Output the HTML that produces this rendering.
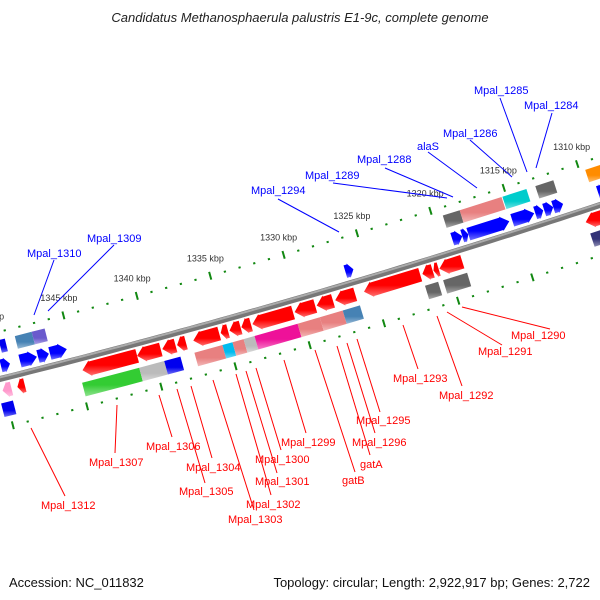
<!DOCTYPE html>
<html><head><meta charset="utf-8">
<style>
html,body{margin:0;padding:0;background:#fff;}
svg{display:block;font-family:"Liberation Sans","DejaVu Sans",sans-serif;}
.bl{fill:#0000ff;font-size:11px;}
.rl{fill:#ff0000;font-size:11px;}
.tk{fill:#333;font-size:9px;}
</style></head>
<body>
<svg id="chart" width="600" height="600" viewBox="0 0 600 600" xmlns="http://www.w3.org/2000/svg">
<defs id="defs"></defs>
<text x="300" y="22" text-anchor="middle" font-size="13" font-style="italic" fill="#222">Candidatus Methanosphaerula palustris E1-9c, complete genome</text>
<g id="ticks"></g>
<g id="backbone"></g>
<g id="genes"></g>
<g id="labels" stroke-width="1">
 <g stroke="#0000ff">
  <line x1="54" y1="260" x2="34" y2="315"/><line x1="114" y1="245" x2="48" y2="311"/>
  <line x1="278" y1="199" x2="339" y2="232"/><line x1="333" y1="183" x2="447" y2="198"/>
  <line x1="385" y1="168" x2="453" y2="197"/><line x1="428" y1="152" x2="477" y2="188"/>
  <line x1="470" y1="140" x2="512" y2="177"/><line x1="500" y1="98" x2="527" y2="172"/>
  <line x1="552" y1="113" x2="536" y2="168"/>
 </g>
 <g stroke="#ff0000">
  <line x1="462" y1="307" x2="550" y2="329"/><line x1="447" y1="312" x2="502" y2="345"/>
  <line x1="437" y1="316" x2="462" y2="386"/><line x1="403" y1="325" x2="418" y2="369"/>
  <line x1="357" y1="339" x2="380" y2="412"/><line x1="347" y1="343" x2="375" y2="433"/>
  <line x1="337" y1="346" x2="370" y2="455"/><line x1="315" y1="350" x2="355" y2="472"/>
  <line x1="284" y1="360" x2="306" y2="433"/><line x1="256" y1="368" x2="281" y2="450"/>
  <line x1="246" y1="371" x2="277" y2="473"/><line x1="236" y1="374" x2="271" y2="495"/>
  <line x1="213" y1="380" x2="254" y2="510"/><line x1="191" y1="386" x2="212" y2="458"/>
  <line x1="177" y1="389" x2="205" y2="483"/><line x1="159" y1="395" x2="172" y2="437"/>
  <line x1="117" y1="405" x2="115" y2="453"/><line x1="31" y1="428" x2="65" y2="496"/>
 </g>
 <g stroke="none">
  <text class="bl" x="27" y="257">Mpal_1310</text>
  <text class="bl" x="87" y="242">Mpal_1309</text>
  <text class="bl" x="251" y="194">Mpal_1294</text>
  <text class="bl" x="305" y="179">Mpal_1289</text>
  <text class="bl" x="357" y="163">Mpal_1288</text>
  <text class="bl" x="417" y="150">alaS</text>
  <text class="bl" x="443" y="137">Mpal_1286</text>
  <text class="bl" x="474" y="94">Mpal_1285</text>
  <text class="bl" x="524" y="109">Mpal_1284</text>
  <text class="rl" x="511" y="339">Mpal_1290</text>
  <text class="rl" x="478" y="355">Mpal_1291</text>
  <text class="rl" x="439" y="399">Mpal_1292</text>
  <text class="rl" x="393" y="382">Mpal_1293</text>
  <text class="rl" x="356" y="424">Mpal_1295</text>
  <text class="rl" x="352" y="446">Mpal_1296</text>
  <text class="rl" x="360" y="468">gatA</text>
  <text class="rl" x="342" y="484">gatB</text>
  <text class="rl" x="281" y="446">Mpal_1299</text>
  <text class="rl" x="255" y="463">Mpal_1300</text>
  <text class="rl" x="255" y="485">Mpal_1301</text>
  <text class="rl" x="246" y="508">Mpal_1302</text>
  <text class="rl" x="228" y="523">Mpal_1303</text>
  <text class="rl" x="186" y="471">Mpal_1304</text>
  <text class="rl" x="179" y="495">Mpal_1305</text>
  <text class="rl" x="146" y="450">Mpal_1306</text>
  <text class="rl" x="89" y="466">Mpal_1307</text>
  <text class="rl" x="41" y="509">Mpal_1312</text>
 </g>
</g>
<text x="9" y="587" font-size="13" fill="#111">Accession: NC_011832</text>
<text x="590" y="587" font-size="13" fill="#111" text-anchor="end">Topology: circular; Length: 2,922,917 bp; Genes: 2,722</text>
</svg>
<script>
// ---- data (positions in kbp) ----
const tickStart = 1305;
const tickEnd = 1351;
const majorEvery = 5;
// reverse strand gene arrows [startKbp, endKbp]
const revGeneStart = [1341.0,1339.4,1338.4,1337.7,1335.45,1334.85,1334.0,1333.3,1330.45,1328.95,1327.75,1326.25,1321.85,1321.0,1320.6,1319.0,1309.4,1348.6,1349.5];
const revGeneEnd   = [1344.7,1341.0,1339.3,1338.3,1337.2,1335.35,1334.75,1333.95,1333.2,1330.35,1328.85,1327.6,1325.65,1321.7,1320.95,1320.55,1310.65,1349.1,1350.1];
const revGeneColor = ['#ff0000','#ff0000','#ff0000','#ff0000','#ff0000','#ff0000','#ff0000','#ff0000','#ff0000','#ff0000','#ff0000','#ff0000','#ff0000','#ff0000','#ff0000','#ff0000','#ff0000','#ff0000','#ff99cc'];
// reverse strand COG boxes
const revBoxStart = [1341.07,1339.38,1338.29,1335.45,1334.77,1334.02,1333.28,1330.37,1328.87,1327.32,1326.16,1320.88,1318.92,1309.4,1349.6];
const revBoxEnd   = [1344.93,1341.07,1339.38,1337.34,1335.45,1334.77,1334.02,1333.28,1330.37,1328.87,1327.32,1321.76,1320.54,1310.6,1350.4];
const revBoxColor = ['#33cc33','#bbbbbb','#0000ee','#e88080','#00bbee','#e88080','#bbbbbb','#ee1199','#e88080','#e88080','#4682b4','#666666','#666666','#333377','#0000ee'];
// forward strand gene arrows
const fwdGeneStart = [1349.2,1347.37,1346.56,1345.34,1325.9,1318.51,1318.1,1315.32,1313.63,1313.02,1312.34,1311.67,1308.8];
const fwdGeneEnd   = [1349.81,1348.52,1347.3,1346.49,1326.44,1319.19,1318.51,1318.1,1315.12,1313.56,1312.95,1312.34,1309.3];
// forward strand COG boxes
const fwdBoxStart = [1349.13,1347.3,1346.42,1318.17,1315.32,1313.63,1311.8,1308.6];
const fwdBoxEnd   = [1349.54,1348.45,1347.3,1319.32,1318.17,1315.26,1313.02,1309.63];
const fwdBoxColor = ['#0000ee','#4682b4','#6a5acd','#666666','#e88080','#00cccc','#666666','#ff8c00'];

// ---- axis functions ----
const NS='http://www.w3.org/2000/svg';
function sOf(k){return 75 + (1345 - k) * 14.76;}
function B(s){return 379 - 0.25*s - 6.67e-5*s*s;}
function pt(s,d){const m=-0.25-1.334e-4*s;const n=Math.sqrt(1+m*m);return [s + d*(-m/n), B(s) + d*(1/n)];}
function P(a){return a.map(p=>p[0].toFixed(1)+','+p[1].toFixed(1)).join(' ');}
function mk(tag,attrs,parent){const e=document.createElementNS(NS,tag);for(const k in attrs)e.setAttribute(k,attrs[k]);parent.appendChild(e);return e;}
function lighten(c){const r=parseInt(c.substr(1,2),16),g=parseInt(c.substr(3,2),16),b=parseInt(c.substr(5,2),16);const f=x=>Math.round(x+(255-x)*0.45).toString(16).padStart(2,'0');return '#'+f(r)+f(g)+f(b);}
const defs=document.getElementById('defs');
const grads={};
function grad(c){
  if(grads[c])return grads[c];
  const id='g'+c.substr(1);
  const g=mk('linearGradient',{id:id,x1:0,y1:0,x2:0,y2:1},defs);
  mk('stop',{offset:'0',"stop-color":c},g);
  mk('stop',{offset:'0.6',"stop-color":c},g);
  mk('stop',{offset:'1',"stop-color":lighten(c)},g);
  grads[c]='url(#'+id+')';return grads[c];
}

// ticks
const tg=document.getElementById('ticks');
for(let k=tickEnd;k>=tickStart;k--){
  const s=sOf(k); if(s<-15||s>615)continue;
  const major=(k%majorEvery===0);
  [-46,48].forEach(d=>{
    const a=pt(s,d-(major?4:1)),b=pt(s,d+(major?4:1));
    const l=mk('line',{x1:a[0],y1:a[1],x2:b[0],y2:b[1],stroke:'#118811','stroke-width':major?2:2.2},tg);
    
    
  });
  if(major){
    const p=pt(s,-64);
    const t=mk('text',{x:p[0],y:p[1]+3,'text-anchor':'middle',class:'tk'},tg);
    t.textContent=k+' kbp';
    
    
  }
}

// backbone
const bg=document.getElementById('backbone');
function linePath(d){const a=[];for(let s=-20;s<=620;s+=10)a.push(pt(s,d));return 'M'+P(a).replace(/ /g,' L');}
const b1=mk('path',{d:linePath(0),stroke:'#777','stroke-width':6,fill:'none'},bg);


mk('path',{d:linePath(-1.5),stroke:'#aaa','stroke-width':2,fill:'none'},bg);

// genes
const gg=document.getElementById('genes');
function arrow(k1,k2,a,b,dir,color,name){
  let s1=sOf(Math.max(k1,k2)), s2=sOf(Math.min(k1,k2));
  const h=Math.min(8,(s2-s1)*0.6);
  let pts;
  if(dir>0){pts=[pt(s1,a),pt(s2-h,a),pt(s2-h,a-1),pt(s2,(a+b)/2),pt(s2-h,b+1),pt(s2-h,b),pt(s1,b)];}
  else{pts=[pt(s2,a),pt(s1+h,a),pt(s1+h,a-1),pt(s1,(a+b)/2),pt(s1+h,b+1),pt(s1+h,b),pt(s2,b)];}
  const e=mk('polygon',{points:P(pts),fill:grad(color)},gg);
  
  
}
function box(k1,k2,a,b,color,name){
  const s1=sOf(Math.max(k1,k2)), s2=sOf(Math.min(k1,k2));
  const e=mk('polygon',{points:P([pt(s1,a),pt(s2,a),pt(s2,b),pt(s1,b)]),fill:grad(color)},gg);
  
  
}
revGeneStart.forEach((v,i)=>arrow(v,revGeneEnd[i],5,19,-1,revGeneColor[i],'reverse-gene'));
revBoxStart.forEach((v,i)=>box(v,revBoxEnd[i],24,38,revBoxColor[i],'reverse-cog-box'));
fwdGeneStart.forEach((v,i)=>arrow(v,fwdGeneEnd[i],-19,-6,1,'#0000ff','forward-gene'));
fwdBoxStart.forEach((v,i)=>box(v,fwdBoxEnd[i],-38,-25,fwdBoxColor[i],'forward-cog-box'));
</script>
</body></html>
